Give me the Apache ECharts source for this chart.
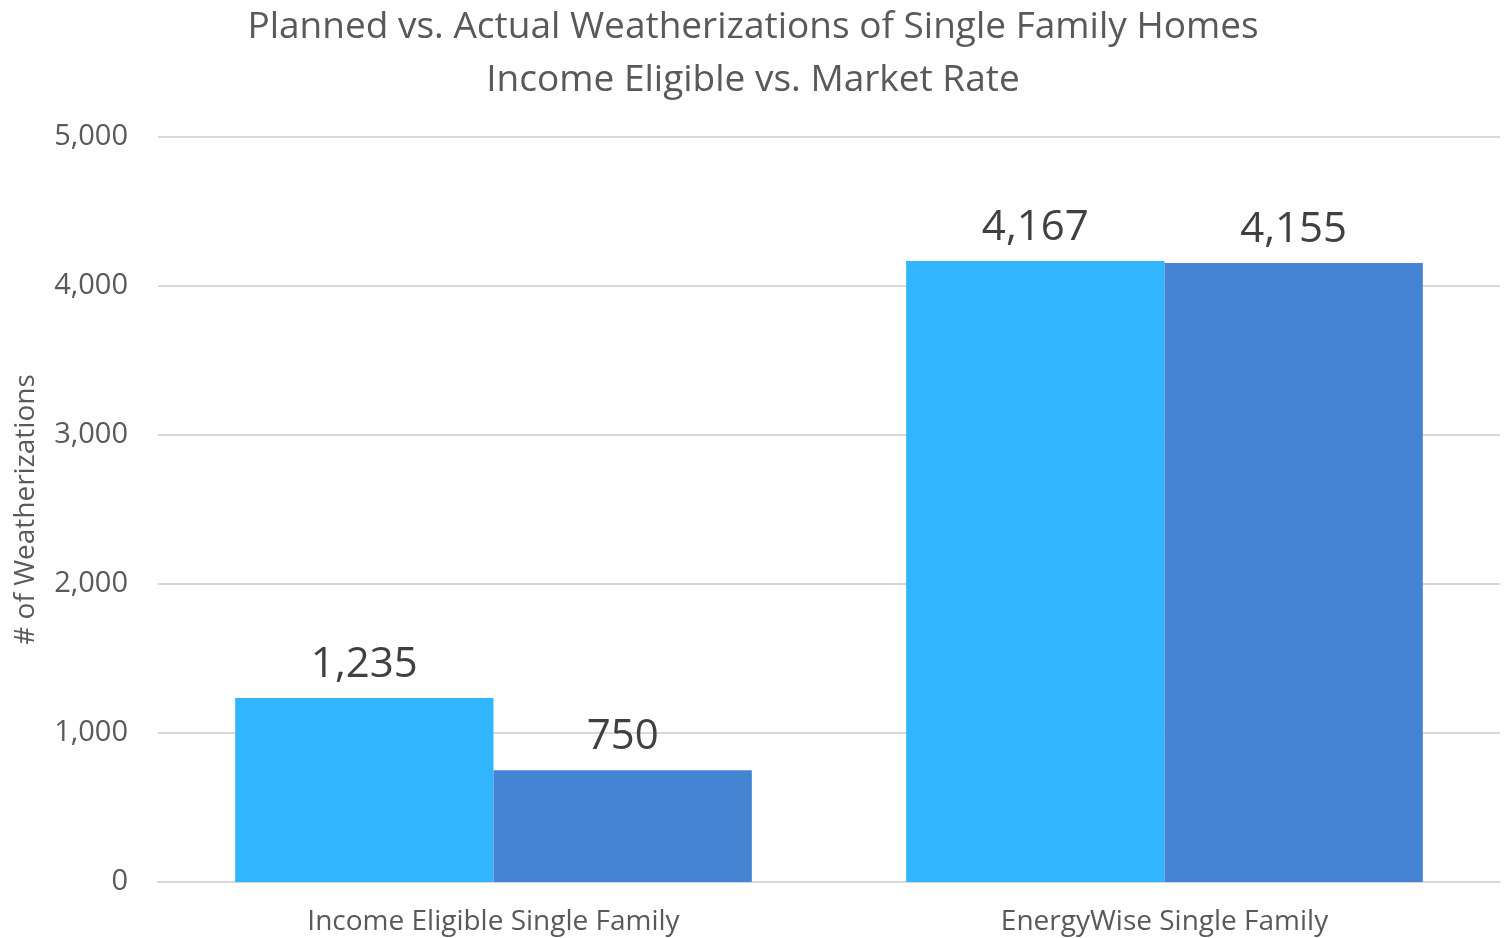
<!DOCTYPE html>
<html>
<head>
<meta charset="utf-8">
<script src="https://cdn.jsdelivr.net/npm/echarts@6/dist/echarts.min.js"></script>
<style>
    html, body {margin: 0; padding: 0; background: #ffffff;}
    #MyChart {width: 1506px; height: 938px;}
</style>
</head>
<body>
<div id="MyChart"></div>
<script>
// 数据
var Categories = ['Income Eligible Single Family', 'EnergyWise Single Family']
var Planned = [1235, 4167]
var Actual = [750, 4155]
var YTicks = [0, 1000, 2000, 3000, 4000, 5000]

var chartDom = document.getElementById('MyChart');
var myChart = echarts.init(chartDom);
var option;

var FontName = 'Open Sans'

option = {
    animation: false,
    title: {
        text: 'Planned vs. Actual Weatherizations of Single Family Homes\nIncome Eligible vs. Market Rate',
        left: 'center',
        top: -4,
        textStyle: {
            color: '#595959',
            fontFamily: FontName,
            fontWeight: 'normal',
            fontSize: 37,
            lineHeight: 53
        }
    },
    grid: {
        left: 158,
        right: 6,
        top: 137,
        bottom: 56
    },
    xAxis: {
        type: 'category',
        data: Categories,
        axisTick: {show: false},
        axisLine: {
            lineStyle: {color: '#d9d9d9', width: 2}
        },
        axisLabel: {
            color: '#595959',
            fontFamily: FontName,
            fontSize: 28,
            margin: 26
        }
    },
    yAxis: {
        type: 'value',
        min: YTicks[0],
        max: YTicks[YTicks.length - 1],
        interval: 1000,
        name: '# of Weatherizations',
        nameLocation: 'center',
        nameRotate: 90,
        nameGap: 118,
        nameTextStyle: {
            color: '#595959',
            fontFamily: FontName,
            fontSize: 28
        },
        axisLine: {show: false},
        axisTick: {show: false},
        splitLine: {
            lineStyle: {color: '#d9d9d9', width: 2}
        },
        axisLabel: {
            color: '#595959',
            fontFamily: FontName,
            fontSize: 29,
            margin: 30,
            formatter: function (v) {
                return v.toLocaleString('en-US')
            }
        }
    },
    series: [
        {
            name: 'Planned',
            type: 'bar',
            data: Planned,
            barGap: '0%',
            barCategoryGap: '23%',
            itemStyle: {color: '#31b5fe'},
            label: {
                show: true,
                position: 'top',
                distance: 12,
                color: '#404040',
                fontFamily: FontName,
                fontSize: 42,
                formatter: function (p) {
                    return p.value.toLocaleString('en-US')
                }
            }
        },
        {
            name: 'Actual',
            type: 'bar',
            data: Actual,
            barGap: '0%',
            barCategoryGap: '23%',
            itemStyle: {color: '#4584d3'},
            label: {
                show: true,
                position: 'top',
                distance: 12,
                color: '#404040',
                fontFamily: FontName,
                fontSize: 42,
                formatter: function (p) {
                    return p.value.toLocaleString('en-US')
                }
            }
        }
    ]
};

option && myChart.setOption(option);
</script>
</body>
</html>
